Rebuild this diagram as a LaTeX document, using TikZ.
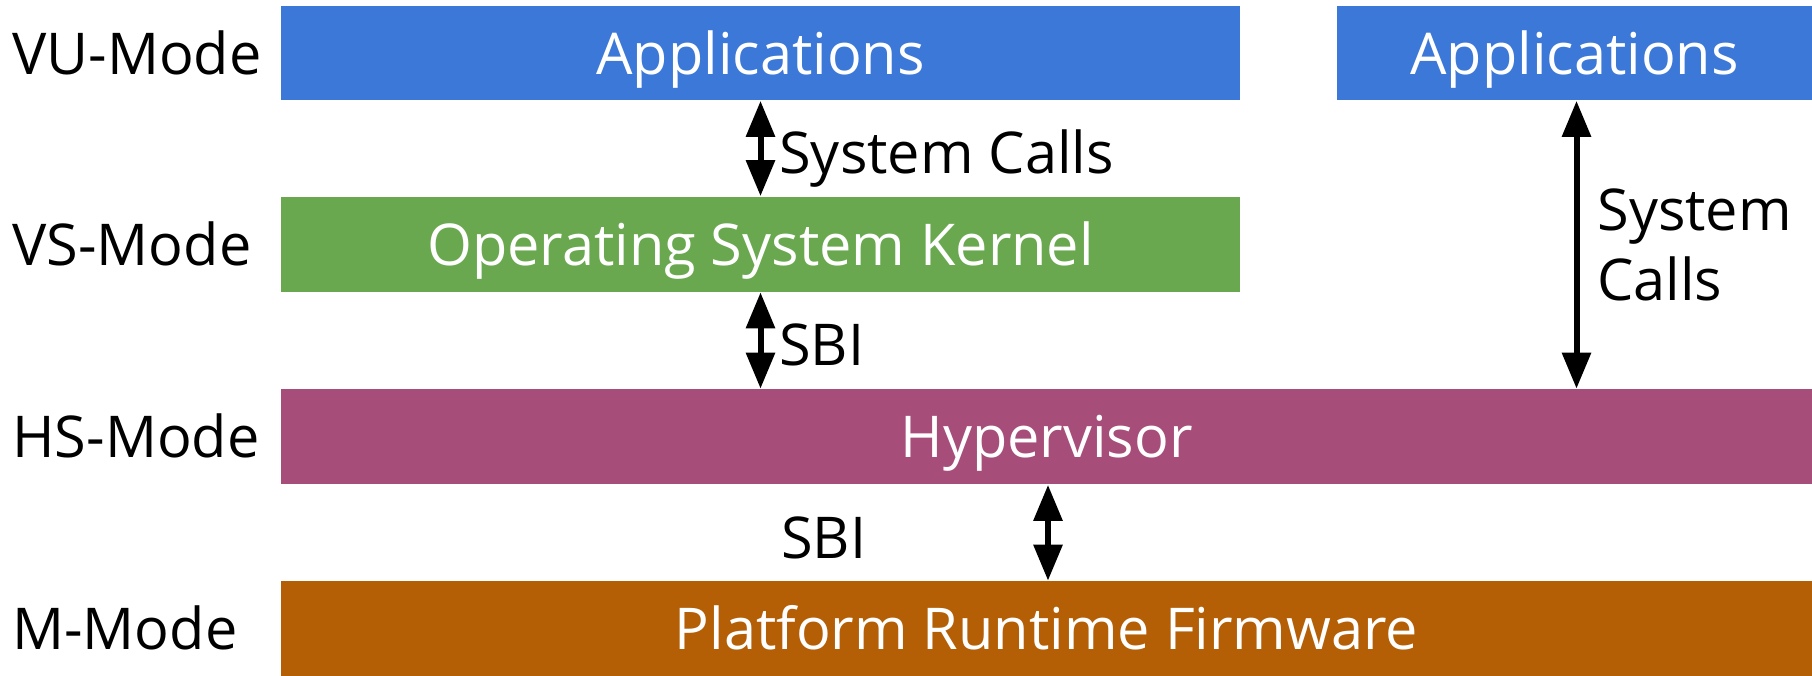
\documentclass[tikz,border=0pt]{standalone}
\usepackage{fontspec}
\setmainfont{Open Sans}
\usetikzlibrary{arrows.meta}
\definecolor{cblue}{HTML}{3C78D8}
\definecolor{cgreen}{HTML}{6AA84F}
\definecolor{cpurple}{HTML}{A64D79}
\definecolor{corange}{HTML}{B45F06}
\tikzset{
  layer/.style={inner sep=0pt, text=white, text height=0.84cm, text depth=0pt,
    font=\fontsize{32.8}{40}\selectfont},
  modelabel/.style={inner sep=0pt, anchor=west, text height=0.84cm, text depth=0pt,
    font=\fontsize{32.8}{40}\selectfont},
  linklabel/.style={inner sep=0pt, anchor=base west, font=\fontsize{32.8}{39.8}\selectfont},
  arr/.style={line width=0.12cm, {Triangle[length=0.72cm,width=0.56cm]}-{Triangle[length=0.72cm,width=0.56cm]}}
}
\begin{document}
\begin{tikzpicture}[x=0.02cm,y=-0.02cm]
\useasboundingbox (0,0) rectangle (1812,676);
% layers
\node[layer, fill=cblue, minimum width=19.18cm, minimum height=1.89cm] (app1) at (760.5,53.25) {Applications};
\node[layer, fill=cblue, minimum width=9.5cm, minimum height=1.89cm] (app2) at (1574.5,53.25) {Applications};
\node[layer, fill=cgreen, minimum width=19.18cm, minimum height=1.91cm] (os) at (760.5,244.25) {Operating System Kernel};
\node[layer, fill=cpurple, minimum width=30.62cm, minimum height=1.91cm] (hyp) at (1046.5,436.75) {Hypervisor};
\node[layer, fill=corange, minimum width=30.62cm, minimum height=1.9cm] (fw) at (1046.5,628.5) {Platform Runtime Firmware};
% mode labels
\node[modelabel] (vu) at (12,53.25) {VU-Mode};
\node[modelabel] (vs) at (12,244.25) {VS-Mode};
\node[modelabel] (hs) at (12,436.75) {HS-Mode};
\node[modelabel] (mm) at (12,628.5) {M-Mode};
% connectors
\draw[arr] (app1.south) -- (os.north);
\draw[arr] (os.south) -- (os.south |- hyp.north);
\draw[arr] ([xshift=0.04cm]app2.south) -- ([xshift=0.04cm]app2.south |- hyp.north);
\draw[arr] ([xshift=0.03cm]hyp.south) -- ([xshift=0.03cm]hyp.south |- fw.north);
% connector labels
\node[linklabel] (l1) at (779,173) {System Calls};
\node[linklabel] (l2) at (779,365) {SBI};
\node[linklabel] (l3) at (781,558) {SBI};
\node[linklabel, align=left] (l4) at (1597,300) {System\\Calls};
\end{tikzpicture}
\end{document}
